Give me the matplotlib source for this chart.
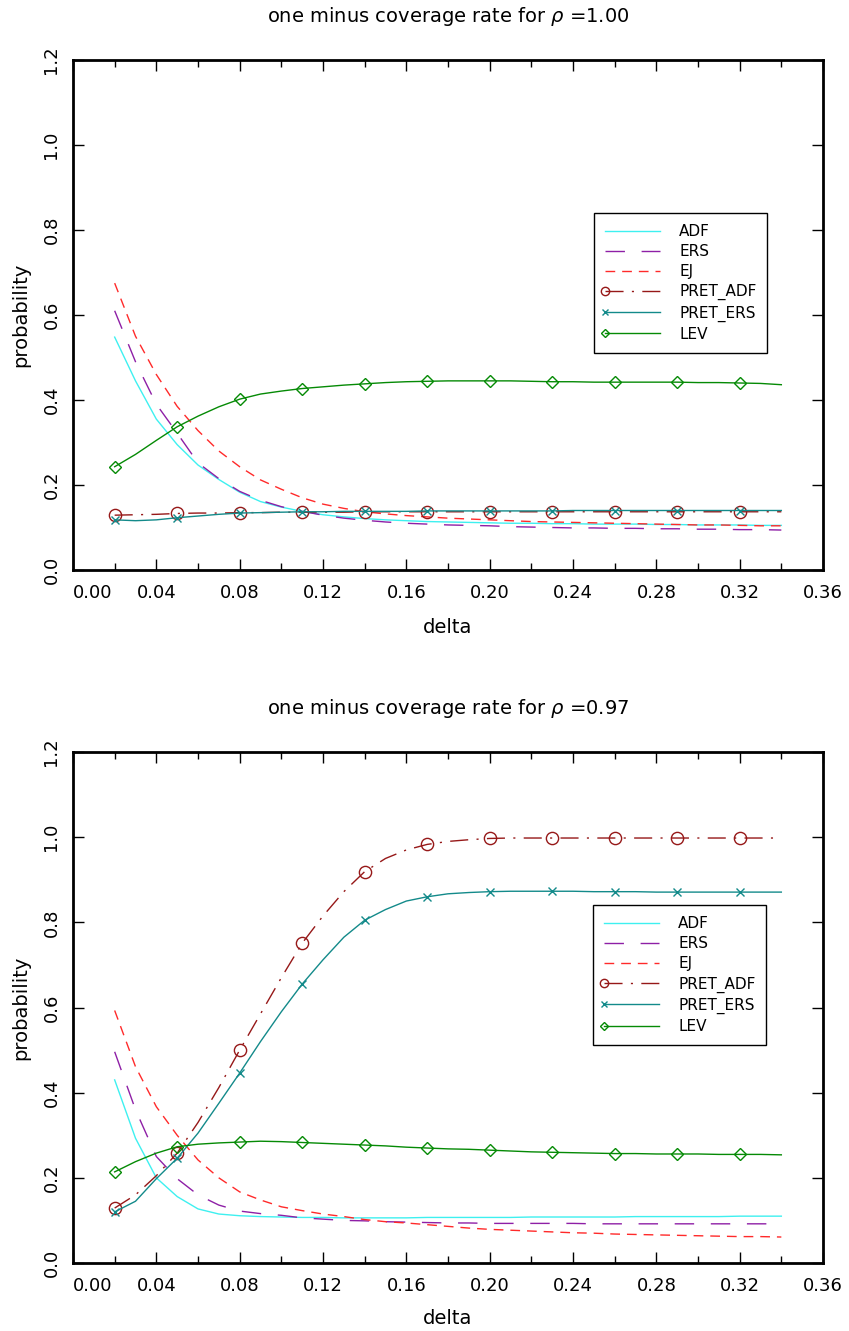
import numpy as np
import matplotlib
matplotlib.use("Agg")
import matplotlib.pyplot as plt
import matplotlib.transforms as mtrans
from matplotlib.legend_handler import HandlerLine2DCompound

plt.rcParams['font.family'] = ['DejaVu Sans']
plt.rcParams['mathtext.fontset'] = 'dejavusans'

# ---------------- data ----------------
delta = [0.02, 0.03, 0.04, 0.05, 0.06, 0.07, 0.08, 0.09, 0.10, 0.11, 0.12,
         0.13, 0.14, 0.15, 0.16, 0.17, 0.18, 0.19, 0.20, 0.21, 0.22, 0.23,
         0.24, 0.25, 0.26, 0.27, 0.28, 0.29, 0.30, 0.31, 0.32, 0.33, 0.34]

# rho = 1.00
adf_1 = [0.548, 0.445, 0.355, 0.295, 0.247, 0.213, 0.183, 0.161, 0.148, 0.138, 0.130,
         0.125, 0.121, 0.118, 0.116, 0.114, 0.113, 0.112, 0.111, 0.110, 0.110, 0.109,
         0.109, 0.108, 0.108, 0.108, 0.107, 0.107, 0.106, 0.106, 0.106, 0.105, 0.105]
ers_1 = [0.610, 0.490, 0.390, 0.322, 0.252, 0.215, 0.185, 0.164, 0.149, 0.138, 0.129,
         0.122, 0.117, 0.113, 0.110, 0.108, 0.106, 0.105, 0.104, 0.102, 0.101, 0.100,
         0.099, 0.099, 0.098, 0.098, 0.097, 0.097, 0.096, 0.096, 0.095, 0.095, 0.094]
ej_1 = [0.675, 0.550, 0.460, 0.385, 0.328, 0.280, 0.243, 0.212, 0.190, 0.170, 0.155,
        0.145, 0.137, 0.132, 0.128, 0.125, 0.122, 0.120, 0.118, 0.116, 0.114, 0.113,
        0.112, 0.111, 0.110, 0.109, 0.108, 0.107, 0.106, 0.106, 0.105, 0.104, 0.104]
pret_adf_1 = [0.129, 0.130, 0.131, 0.133, 0.134, 0.134, 0.135, 0.135, 0.136, 0.136, 0.136,
              0.136, 0.137, 0.137, 0.137, 0.137, 0.137, 0.137, 0.137, 0.137, 0.137, 0.137,
              0.137, 0.137, 0.137, 0.137, 0.137, 0.137, 0.137, 0.137, 0.137, 0.137, 0.137]
pret_ers_1 = [0.118, 0.116, 0.118, 0.123, 0.127, 0.131, 0.134, 0.135, 0.136, 0.137, 0.137,
              0.138, 0.138, 0.138, 0.138, 0.139, 0.139, 0.139, 0.139, 0.139, 0.139, 0.139,
              0.140, 0.140, 0.140, 0.140, 0.140, 0.140, 0.140, 0.140, 0.140, 0.140, 0.140]
lev_1 = [0.243, 0.272, 0.305, 0.337, 0.362, 0.384, 0.402, 0.414, 0.421, 0.427, 0.431,
         0.435, 0.438, 0.441, 0.443, 0.444, 0.445, 0.445, 0.445, 0.445, 0.444, 0.443,
         0.443, 0.442, 0.442, 0.442, 0.442, 0.442, 0.441, 0.441, 0.440, 0.439, 0.436]

# rho = 0.97
adf_2 = [0.430, 0.293, 0.200, 0.156, 0.127, 0.115, 0.111, 0.109, 0.108, 0.107, 0.107,
         0.106, 0.106, 0.106, 0.106, 0.107, 0.107, 0.107, 0.107, 0.107, 0.108, 0.108,
         0.108, 0.108, 0.108, 0.109, 0.109, 0.109, 0.109, 0.109, 0.110, 0.110, 0.110]
ers_2 = [0.496, 0.360, 0.250, 0.198, 0.160, 0.136, 0.122, 0.116, 0.112, 0.106, 0.103,
         0.100, 0.099, 0.097, 0.096, 0.095, 0.094, 0.094, 0.093, 0.093, 0.093, 0.093,
         0.093, 0.092, 0.092, 0.092, 0.092, 0.092, 0.092, 0.092, 0.092, 0.092, 0.092]
ej_2 = [0.593, 0.461, 0.367, 0.300, 0.242, 0.200, 0.167, 0.148, 0.132, 0.123, 0.115,
        0.109, 0.102, 0.097, 0.094, 0.090, 0.086, 0.082, 0.079, 0.077, 0.075, 0.073,
        0.071, 0.070, 0.068, 0.067, 0.066, 0.065, 0.064, 0.063, 0.062, 0.062, 0.061]
pret_adf_2 = [0.129, 0.160, 0.205, 0.258, 0.330, 0.412, 0.500, 0.585, 0.670, 0.751, 0.815,
              0.872, 0.919, 0.950, 0.970, 0.983, 0.990, 0.994, 0.997, 0.998, 0.998, 0.998,
              0.998, 0.998, 0.998, 0.998, 0.998, 0.998, 0.998, 0.998, 0.998, 0.998, 0.998]
pret_ers_2 = [0.120, 0.145, 0.198, 0.246, 0.305, 0.375, 0.446, 0.520, 0.590, 0.655, 0.712,
              0.765, 0.805, 0.830, 0.850, 0.860, 0.867, 0.870, 0.872, 0.873, 0.873, 0.873,
              0.873, 0.872, 0.872, 0.872, 0.871, 0.871, 0.871, 0.871, 0.871, 0.871, 0.871]
lev_2 = [0.214, 0.238, 0.258, 0.273, 0.279, 0.282, 0.284, 0.286, 0.285, 0.283, 0.281,
         0.279, 0.277, 0.275, 0.272, 0.270, 0.268, 0.267, 0.265, 0.263, 0.261, 0.260,
         0.259, 0.258, 0.257, 0.257, 0.256, 0.256, 0.256, 0.255, 0.255, 0.255, 0.254]

series_names = ["ADF", "ERS", "EJ", "PRET_ADF", "PRET_ERS", "LEV"]
rho_labels = ["1.00", "0.97"]
xtick_vals = [0.00, 0.04, 0.08, 0.12, 0.16, 0.20, 0.24, 0.28, 0.32, 0.36]
ytick_vals = [0.0, 0.2, 0.4, 0.6, 0.8, 1.0, 1.2]

panels = [
    [adf_1, ers_1, ej_1, pret_adf_1, pret_ers_1, lev_1],
    [adf_2, ers_2, ej_2, pret_adf_2, pret_ers_2, lev_2],
]

# ---------------- styles ----------------
styles = [
    dict(color='#3ef0f0', lw=1.0, ls='-'),
    dict(color='#8e1fa6', lw=1.0, ls=(0, (14, 12))),
    dict(color='#ff2a2a', lw=1.0, ls=(0, (7, 5))),
    dict(color='#961818', lw=1.0, ls=(0, (13, 6, 1.5, 6)), marker='o', ms=8.8,
         mfc='none', mew=1.0),
    dict(color='#138a8a', lw=1.0, ls='-', marker='x', ms=6, mew=1.0),
    dict(color='#058a05', lw=1.0, ls='-', marker='D', ms=6.5, mfc='none', mew=1.0),
]


class LeftMarkerHandler(HandlerLine2DCompound):
    def get_xdata(self, legend, xdescent, ydescent, width, height, fontsize):
        xdata = np.array([-xdescent, -xdescent + width])
        xdata_marker = np.array([-xdescent])
        return xdata, xdata_marker


W, H = 849, 1331
fig = plt.figure(figsize=(W / 100, H / 100), dpi=100)

ax_boxes = [(73, 60, 823, 570), (73, 752, 823, 1263)]
xlabel_y = [-0.094, -0.090]

for k, (data, box) in enumerate(zip(panels, ax_boxes)):
    x0, y0, x1, y1 = box
    ax = fig.add_axes([x0 / W, 1 - y1 / H, (x1 - x0) / W, (y1 - y0) / H])
    handles = []
    for name, vals, st in zip(series_names, data, styles):
        st = dict(st)
        kw = dict(color=st.pop('color'), lw=st.pop('lw'), ls=st.pop('ls'))
        if 'marker' in st:
            kw.update(st)
            kw['markevery'] = 3
        ln, = ax.plot(delta, vals, label=name, **kw)
        handles.append(ln)

    ax.set_xlim(0.0, 0.36)
    ax.set_ylim(0.0, 1.2)
    ax.set_xticks(xtick_vals)
    ax.set_xticklabels([f"{v:.2f}" for v in xtick_vals])
    ax.set_xticks(np.arange(0.02, 0.36, 0.04), minor=True)
    ax.set_yticks(ytick_vals)
    ax.set_yticklabels([f"{v:.1f}" for v in ytick_vals], rotation=90, va='center')
    ax.tick_params(axis='both', which='both', direction='in', top=True, right=True,
                   labelsize=13, width=1.0)
    ax.tick_params(axis='both', which='major', length=8)
    ax.tick_params(axis='both', which='minor', length=5)
    ax.tick_params(axis='x', pad=10)
    ax.tick_params(axis='y', pad=9)
    for sp in ax.spines.values():
        sp.set_linewidth(2.0)

    # shift the 0.00 label to the right as in the original
    t0 = ax.xaxis.get_major_ticks()[0]
    t0.label1.set_transform(t0.label1.get_transform() +
                            mtrans.ScaledTranslation(20 / 100, 0, fig.dpi_scale_trans))

    ax.set_xlabel("delta", fontsize=14)
    ax.xaxis.set_label_coords(0.5, xlabel_y[k])
    ax.set_ylabel("probability", fontsize=14)
    ax.yaxis.set_label_coords(-0.057, 0.5)

    ax.text(0.5, 1 + 43 / 510, r"one minus coverage rate for $\rho$ =" + rho_labels[k],
            transform=ax.transAxes, ha='center', va='center', fontsize=14)

    leg = ax.legend(handles=handles, loc='upper left',
                    bbox_to_anchor=(0.6947 if k == 0 else 0.6933, 0.70),
                    borderaxespad=0, fontsize=11, frameon=True, fancybox=False,
                    edgecolor='black', handlelength=3.6, handletextpad=1.25,
                    labelspacing=0.33, borderpad=0.72, numpoints=1, markerscale=0.68,
                    handler_map={ln: LeftMarkerHandler() for ln in handles})
    leg.get_frame().set_linewidth(1.0)
    leg.get_frame().set_alpha(1.0)

fig.savefig("out.png", dpi=100)
